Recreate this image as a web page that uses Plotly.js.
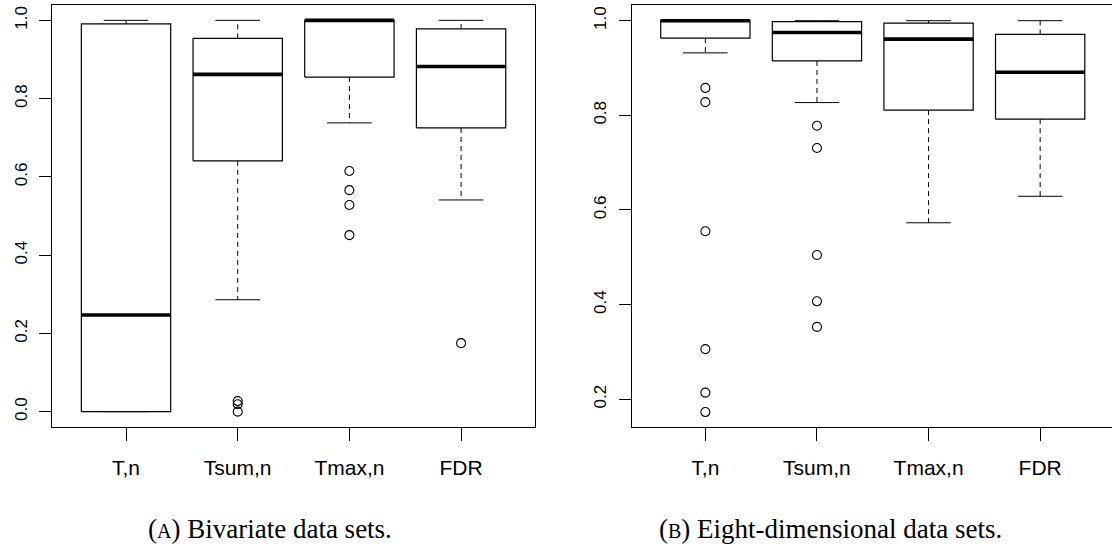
<!DOCTYPE html>
<html>
<head>
<meta charset="utf-8">
<script src="https://cdn.plot.ly/plotly-3.0.1.min.js"></script>
<style>html,body{margin:0;padding:0;background:#fff;}#chart{width:1112px;height:554px;}</style>
</head>
<body>
<div id="chart"></div>
<script>
// ---- data ----
const categories = ["T,n", "Tsum,n", "Tmax,n", "FDR"];

// (A) Bivariate data sets
const bivLower  = [0.000, 0.286, 0.738, 0.541];
const bivQ1     = [0.000, 0.641, 0.855, 0.725];
const bivMedian = [0.247, 0.862, 1.000, 0.882];
const bivQ3     = [0.991, 0.954, 1.000, 0.978];
const bivUpper  = [1.000, 1.000, 1.000, 1.000];
const bivOutliers = [[], [0.027, 0.019, 0.000], [0.615, 0.566, 0.528, 0.451], [0.175]];

// (B) Eight-dimensional data sets
const eightLower  = [0.932, 0.827, 0.573, 0.629];
const eightQ1     = [0.963, 0.915, 0.811, 0.792];
const eightMedian = [1.000, 0.975, 0.961, 0.891];
const eightQ3     = [1.000, 0.998, 0.995, 0.971];
const eightUpper  = [1.000, 1.000, 1.000, 1.000];
const eightOutliers = [[0.858, 0.828, 0.555, 0.306, 0.214, 0.173], [0.778, 0.731, 0.505, 0.407, 0.353], [], []];

const leftTicks = [0, 0.2, 0.4, 0.6, 0.8, 1.0];
const rightTicks = [0.2, 0.4, 0.6, 0.8, 1.0];
const captions = ["(<span style=\"font-size:20px\">A</span>) Bivariate data sets.",
                  "(<span style=\"font-size:20px\">B</span>) Eight-dimensional data sets."];

// ---- build R-style boxplot traces ----
const HALF_BOX = 0.4, HALF_CAP = 0.2;
function boxTraces(lower, q1, med, q3, upper, outl, xa, ya) {
  const box = {x: [], y: []}, mid = {x: [], y: []}, wh = {x: [], y: []}, cap = {x: [], y: []}, pts = {x: [], y: []};
  categories.forEach((c, i) => {
    const p = i + 1;
    box.x.push(p - HALF_BOX, p + HALF_BOX, p + HALF_BOX, p - HALF_BOX, p - HALF_BOX, null);
    box.y.push(q1[i], q1[i], q3[i], q3[i], q1[i], null);
    mid.x.push(p - HALF_BOX, p + HALF_BOX, null);
    mid.y.push(med[i], med[i], null);
    wh.x.push(p, p, null, p, p, null);
    wh.y.push(q3[i], upper[i], null, q1[i], lower[i], null);
    cap.x.push(p - HALF_CAP, p + HALF_CAP, null, p - HALF_CAP, p + HALF_CAP, null);
    cap.y.push(upper[i], upper[i], null, lower[i], lower[i], null);
    outl[i].forEach(v => { pts.x.push(p); pts.y.push(v); });
  });
  const base = {type: 'scatter', xaxis: xa, yaxis: ya, hoverinfo: 'skip', showlegend: false, cliponaxis: false};
  return [
    Object.assign({}, base, {x: wh.x, y: wh.y, mode: 'lines', line: {color: '#000', width: 1, dash: '5px,4px'}}),
    Object.assign({}, base, {x: cap.x, y: cap.y, mode: 'lines', line: {color: '#000', width: 1}}),
    Object.assign({}, base, {x: box.x, y: box.y, mode: 'lines', line: {color: '#000', width: 1.2}, fill: 'none'}),
    Object.assign({}, base, {x: mid.x, y: mid.y, mode: 'lines', line: {color: '#000', width: 3.6}}),
    Object.assign({}, base, {x: pts.x, y: pts.y, mode: 'markers', marker: {symbol: 'circle-open', size: 9, color: '#000', line: {width: 1.1, color: '#000'}}})
  ];
}

const data = [].concat(
  boxTraces(bivLower, bivQ1, bivMedian, bivQ3, bivUpper, bivOutliers, 'x', 'y'),
  boxTraces(eightLower, eightQ1, eightMedian, eightQ3, eightUpper, eightOutliers, 'x2', 'y2')
);

const W = 1112, H = 554;
const tickFontY = {family: 'Liberation Sans, Arial, sans-serif', size: 17, color: '#000'};
const tickFontX = {family: 'Liberation Sans Narrow, Liberation Sans, Arial, sans-serif', size: 21, color: '#000'};
const yDom = [1 - 427.3 / H, 1 - 4.7 / H];
function xAxis(domain, range, mirror) {
  return {domain: domain, range: range, showgrid: false, zeroline: false, showline: true, mirror: mirror,
    linecolor: '#000', linewidth: 1, ticks: 'outside', ticklen: 13, tickwidth: 1, tickcolor: '#000',
    ticklabelstandoff: 8,
    tickvals: [1, 2, 3, 4], ticktext: categories, tickfont: tickFontX, fixedrange: true};
}
function yAxis(domain, range, vals, anchor, mirror) {
  return {domain: domain, range: range, anchor: anchor, showgrid: false, zeroline: false, showline: true, mirror: mirror,
    linecolor: '#000', linewidth: 1, ticks: 'outside', ticklen: 12, tickwidth: 1, tickcolor: '#000',
    ticklabelstandoff: 6,
    tickvals: vals, tickformat: '.1f', tickangle: -90, tickfont: tickFontY, fixedrange: true};
}

const layout = {
  width: W, height: H,
  margin: {l: 0, r: 0, t: 0, b: 0},
  paper_bgcolor: '#fff', plot_bgcolor: '#fff',
  showlegend: false, hovermode: false,
  xaxis: Object.assign(xAxis([52.3 / W, 534.8 / W], [0.34, 4.66], true), {anchor: 'y'}),
  yaxis: yAxis(yDom, [-0.04, 1.04], leftTicks, 'x', true),
  xaxis2: Object.assign(xAxis([631.7 / W, 1], [0.34, 0.34 + (W - 631.7) / 111.6], true), {anchor: 'y2'}),
  yaxis2: yAxis(yDom, [0.1408, 1.0338], rightTicks, 'x2', false),
  annotations: [
    {text: captions[0], xref: 'paper', yref: 'paper', x: 270 / W, y: 1 - 529 / H, xanchor: 'center', yanchor: 'middle',
     showarrow: false, font: {family: 'Liberation Serif, DejaVu Serif, serif', size: 27, color: '#000'}},
    {text: captions[1], xref: 'paper', yref: 'paper', x: 830 / W, y: 1 - 529 / H, xanchor: 'center', yanchor: 'middle',
     showarrow: false, font: {family: 'Liberation Serif, DejaVu Serif, serif', size: 27, color: '#000'}}
  ]
};

Plotly.newPlot('chart', data, layout, {displayModeBar: false, staticPlot: true});
</script>
</body>
</html>
